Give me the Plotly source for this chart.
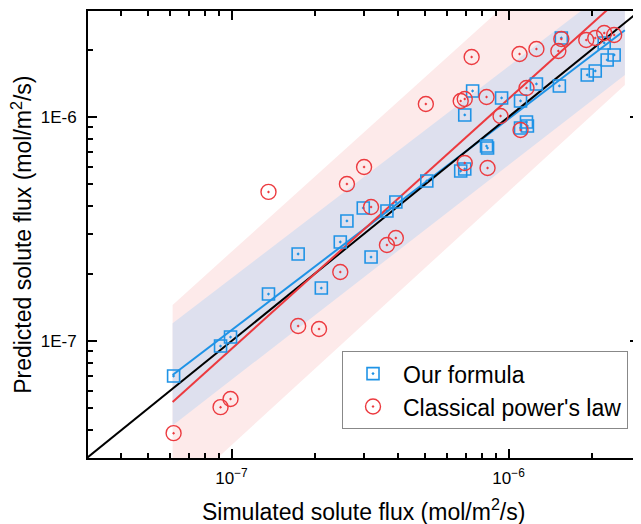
import plotly.graph_objects as go

# ---- data ----
ours_x = [6.18e-8, 9.13e-8, 9.92e-8, 1.36e-7, 1.74e-7, 2.11e-7, 2.47e-7, 2.61e-7, 2.99e-7, 3.19e-7,
          3.64e-7, 3.92e-7, 5.07e-7, 6.72e-7, 6.95e-7, 6.95e-7, 7.42e-7, 8.33e-7, 8.40e-7, 9.44e-7,
          1.105e-6, 1.105e-6, 1.161e-6, 1.170e-6, 1.261e-6, 1.526e-6, 1.551e-6, 1.924e-6, 2.056e-6,
          2.215e-6, 2.270e-6, 2.406e-6]
ours_y = [6.98e-8, 9.50e-8, 1.042e-7, 1.621e-7, 2.446e-7, 1.724e-7, 2.767e-7, 3.434e-7, 3.925e-7, 2.371e-7,
          3.805e-7, 4.174e-7, 5.18e-7, 5.74e-7, 5.86e-7, 1.021e-6, 1.306e-6, 7.42e-7, 7.27e-7, 1.216e-6,
          1.179e-6, 8.93e-7, 9.50e-7, 9.12e-7, 1.404e-6, 1.375e-6, 2.253e-6, 1.540e-6, 1.605e-6,
          2.140e-6, 1.797e-6, 1.891e-6]

power_x = [6.18e-8, 9.13e-8, 9.92e-8, 1.36e-7, 1.74e-7, 2.07e-7, 2.47e-7, 2.61e-7, 3.01e-7, 3.19e-7,
           3.64e-7, 3.92e-7, 5.03e-7, 6.72e-7, 6.95e-7, 6.95e-7, 7.36e-7, 8.33e-7, 8.40e-7, 9.36e-7,
           1.096e-6, 1.105e-6, 1.161e-6, 1.261e-6, 1.513e-6, 1.551e-6, 1.908e-6, 2.056e-6, 2.215e-6, 2.406e-6]
power_y = [3.88e-8, 5.07e-8, 5.51e-8, 4.63e-7, 1.167e-7, 1.131e-7, 2.032e-7, 5.02e-7, 5.98e-7, 3.964e-7,
           2.683e-7, 2.883e-7, 1.143e-6, 1.179e-6, 1.203e-6, 6.23e-7, 1.853e-6, 1.228e-6, 5.92e-7, 1.010e-6,
           1.911e-6, 8.75e-7, 1.347e-6, 2.011e-6, 1.970e-6, 2.230e-6, 2.207e-6, 2.253e-6, 2.371e-6, 2.323e-6]

# fitted lines (endpoints)
fit_x = [6.13e-8, 2.63e-6]
ours_fit_y = [7.05e-8, 2.44e-6]
power_fit_y = [5.34e-8, 3.54e-6]

# prediction bands (endpoints)
ours_band_lo = [4.2e-8, 1.54e-6]
ours_band_hi = [1.20e-7, 4.2e-6]
power_band_lo = [1.97e-8, 1.39e-6]
power_band_hi = [1.45e-7, 9.6e-6]

# identity line
ident = [1e-8, 1e-5]

x_ticks = [1e-7, 1e-6]
x_ticktext = ["10<sup>\u22127</sup>", "10<sup>\u22126</sup>"]
y_ticks = [1e-7, 1e-6]
y_ticktext = ["1E-7", "1E-6"]
x_minor = [3e-8, 4e-8, 5e-8, 6e-8, 7e-8, 8e-8, 9e-8, 2e-7, 3e-7, 4e-7, 5e-7, 6e-7, 7e-7, 8e-7, 9e-7, 2e-6, 3e-6]
y_minor = [4e-8, 5e-8, 6e-8, 7e-8, 8e-8, 9e-8, 2e-7, 3e-7, 4e-7, 5e-7, 6e-7, 7e-7, 8e-7, 9e-7, 2e-6]

BLUE = "#1f93e6"
RED = "#ec3a3f"
FONT = "Arial, Liberation Sans, sans-serif"

fig = go.Figure()

# pink band
fig.add_trace(go.Scatter(
    x=[fit_x[0], fit_x[1], fit_x[1], fit_x[0]],
    y=[power_band_lo[0], power_band_lo[1], power_band_hi[1], power_band_hi[0]],
    fill="toself", fillcolor="rgb(253,234,234)", line=dict(width=0),
    mode="lines", showlegend=False, hoverinfo="skip"))
# blue band
fig.add_trace(go.Scatter(
    x=[fit_x[0], fit_x[1], fit_x[1], fit_x[0]],
    y=[ours_band_lo[0], ours_band_lo[1], ours_band_hi[1], ours_band_hi[0]],
    fill="toself", fillcolor="rgb(222,224,238)", line=dict(width=0),
    mode="lines", showlegend=False, hoverinfo="skip"))

# lines
fig.add_trace(go.Scatter(x=fit_x, y=ours_fit_y, mode="lines",
                         line=dict(color=BLUE, width=2), showlegend=False))
fig.add_trace(go.Scatter(x=ident, y=ident, mode="lines",
                         line=dict(color="black", width=2), showlegend=False))
fig.add_trace(go.Scatter(x=fit_x, y=power_fit_y, mode="lines",
                         line=dict(color=RED, width=2), showlegend=False))

# markers
fig.add_trace(go.Scatter(x=ours_x, y=ours_y, mode="markers", name="Our formula",
                         marker=dict(symbol="square-open-dot", size=12, color=BLUE,
                                     line=dict(width=1.6, color=BLUE))))
fig.add_trace(go.Scatter(x=power_x, y=power_y, mode="markers", name="Classical power's law",
                         marker=dict(symbol="circle-open-dot", size=15, color=RED,
                                     line=dict(width=1.4, color=RED))))

axis_common = dict(
    type="log", showgrid=False, zeroline=False,
    showline=True, linecolor="black", linewidth=2, mirror="allticks",
    ticks="inside", ticklen=9, tickwidth=2, tickcolor="black",
    tickmode="array", tickfont=dict(family=FONT, size=17, color="black"),
)

fig.update_xaxes(**axis_common, range=[-7.518, -5.529],
                 tickvals=x_ticks, ticktext=x_ticktext, ticklabelstandoff=4,
                 minor=dict(tickmode="array", tickvals=x_minor, ticks="inside",
                            ticklen=5, tickwidth=1.5, tickcolor="black"))
fig.update_yaxes(**axis_common, range=[-7.522, -5.527],
                 tickvals=y_ticks, ticktext=y_ticktext, ticklabelstandoff=6,
                 minor=dict(tickmode="array", tickvals=y_minor, ticks="inside",
                            ticklen=5, tickwidth=1.5, tickcolor="black"))

fig.update_layout(
    width=633, height=516,
    margin=dict(l=80, r=0, t=3, b=66),
    paper_bgcolor="white", plot_bgcolor="white",
    font=dict(family=FONT, color="black"),
    legend=dict(x=0.461, y=0.239, xanchor="left", yanchor="top",
                bordercolor="#888888", borderwidth=1, bgcolor="white",
                font=dict(family=FONT, size=23, color="black"),
                itemwidth=50, tracegroupgap=0),
    annotations=[
        dict(text="Simulated solute flux (mol/m<sup>2</sup>/s)", xref="paper", yref="paper",
             x=0.5, y=-0.117, xanchor="center", yanchor="middle", showarrow=False,
             font=dict(family=FONT, size=23, color="black")),
        dict(text="Predicted solute flux (mol/m<sup>2</sup>/s)", xref="paper", yref="paper",
             x=-0.121, y=0.5, xanchor="center", yanchor="middle", showarrow=False,
             textangle=-90, font=dict(family=FONT, size=23, color="black")),
    ],
)

fig.write_html("out.html")
